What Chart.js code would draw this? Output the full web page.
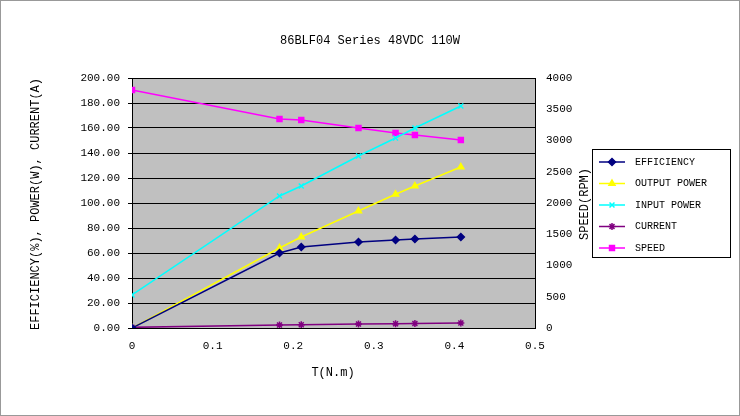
<!DOCTYPE html>
<html><head><meta charset="utf-8">
<script src="https://cdn.jsdelivr.net/npm/chart.js@4"></script>
<style>body{margin:0;background:#fff}#wrap{width:738px;height:414px;border:1px solid #999}</style>
</head><body><div id="wrap"><canvas id="c" width="738" height="414"></canvas></div>
<script>
// torque (N.m) and measured values
const torque = [0, 0.183, 0.21, 0.281, 0.327, 0.351, 0.408];
const efficiency = [0, 60, 64.8, 68.8, 70.4, 71.2, 72.8];
const outputPower = [0, 64, 72.8, 93.6, 107, 113.6, 128.8];
const inputPower = [26.4, 105.6, 113.6, 137.6, 152, 160, 177.6];
const current = [0.5, 2.4, 2.6, 3.2, 3.4, 3.6, 4.0];
const speed = [3808, 3344, 3328, 3200, 3120, 3088, 3008];

const FONT = '"Liberation Mono", "DejaVu Sans Mono", monospace';
const pts = arr => arr.map((v, i) => ({ x: torque[i], y: v }));

const series = [
    { label: 'EFFICIENCY', data: efficiency, color: '#000080', style: 'rectRot', axis: 'y' },
    { label: 'OUTPUT POWER', data: outputPower, color: '#ffff00', style: 'triangle', axis: 'y' },
    { label: 'INPUT POWER', data: inputPower, color: '#00ffff', style: 'crossRot', axis: 'y' },
    { label: 'CURRENT', data: current, color: '#800080', style: 'star', axis: 'y' },
    { label: 'SPEED', data: speed, color: '#ff00ff', style: 'rect', axis: 'y2' }
];

// title, axis titles and legend box drawn by hand to match the original layout
const decor = {
    id: 'decor',
    afterDraw(chart) {
        const ctx = chart.ctx;
        ctx.save();
        ctx.fillStyle = '#000';
        ctx.font = '12px ' + FONT;
        ctx.textAlign = 'center';
        ctx.textBaseline = 'middle';
        ctx.fillText('86BLF04 Series 48VDC 110W', 369, 40);
        ctx.fillText('T(N.m)', 332, 372);
        ctx.save(); ctx.translate(35, 203); ctx.rotate(-Math.PI / 2);
        ctx.fillText('EFFICIENCY(%), POWER(W), CURRENT(A)', 0, 0); ctx.restore();
        ctx.save(); ctx.translate(584, 203); ctx.rotate(-Math.PI / 2);
        ctx.fillText('SPEED(RPM)', 0, 0); ctx.restore();
        // legend
        ctx.strokeStyle = '#000'; ctx.lineWidth = 1;
        ctx.fillStyle = '#fff';
        ctx.fillRect(591.5, 148.5, 138, 108);
        ctx.strokeRect(591.5, 148.5, 138, 108);
        ctx.font = '10px ' + FONT;
        ctx.textAlign = 'left';
        series.forEach((s, i) => {
            const y = 161 + i * 21.5;
            ctx.strokeStyle = s.color; ctx.lineWidth = 1.5;
            ctx.beginPath(); ctx.moveTo(598, y); ctx.lineTo(624, y); ctx.stroke();
            ctx.fillStyle = s.color;
            Chart.helpers.drawPoint(ctx, { pointStyle: s.style, radius: 3.5, borderWidth: 1.5 }, 611, y);
            ctx.fillStyle = '#000';
            ctx.fillText(s.label, 634, y);
        });
        ctx.restore();
    }
};

const plotBg = {
    id: 'plotBg',
    beforeDraw(chart) {
        const a = chart.chartArea, ctx = chart.ctx;
        ctx.save();
        ctx.fillStyle = '#c0c0c0';
        ctx.fillRect(a.left, a.top, a.right - a.left, a.bottom - a.top);
        ctx.restore();
    }
};

new Chart(document.getElementById('c'), {
    type: 'line',
    data: {
        datasets: series.map(s => ({
            label: s.label, data: pts(s.data), yAxisID: s.axis,
            borderColor: s.color, backgroundColor: s.color,
            pointStyle: s.style, pointRadius: 3.5, borderWidth: 1.5,
            pointBorderWidth: 1.5, tension: 0
        }))
    },
    options: {
        responsive: false, animation: false,
        layout: { padding: { top: 77, right: 0, left: 0, bottom: 0 } },
        plugins: { legend: { display: false }, tooltip: { enabled: false } },
        scales: {
            x: {
                type: 'linear', min: 0, max: 0.5,
                ticks: { stepSize: 0.1, color: '#000', font: { family: FONT, size: 11 },
                    callback: v => String(Math.round(v * 10) / 10) },
                grid: { display: false, drawTicks: true },
                border: { color: '#000' },
                afterFit: s => { s.height = 87; }
            },
            y: {
                position: 'left', min: 0, max: 200,
                ticks: { stepSize: 20, color: '#000', font: { family: FONT, size: 11 }, padding: 8,
                    callback: v => v.toFixed(2) },
                grid: { color: '#000', drawTicks: true, tickLength: 4 },
                border: { color: '#000' },
                afterFit: s => { s.width = 131; }
            },
            y2: {
                position: 'right', min: 0, max: 4000,
                ticks: { stepSize: 500, color: '#000', font: { family: FONT, size: 11 },
                    callback: v => String(v) },
                grid: { display: false },
                border: { color: '#000' },
                afterFit: s => { s.width = 204; }
            }
        }
    },
    plugins: [plotBg, decor]
});
</script></body></html>
